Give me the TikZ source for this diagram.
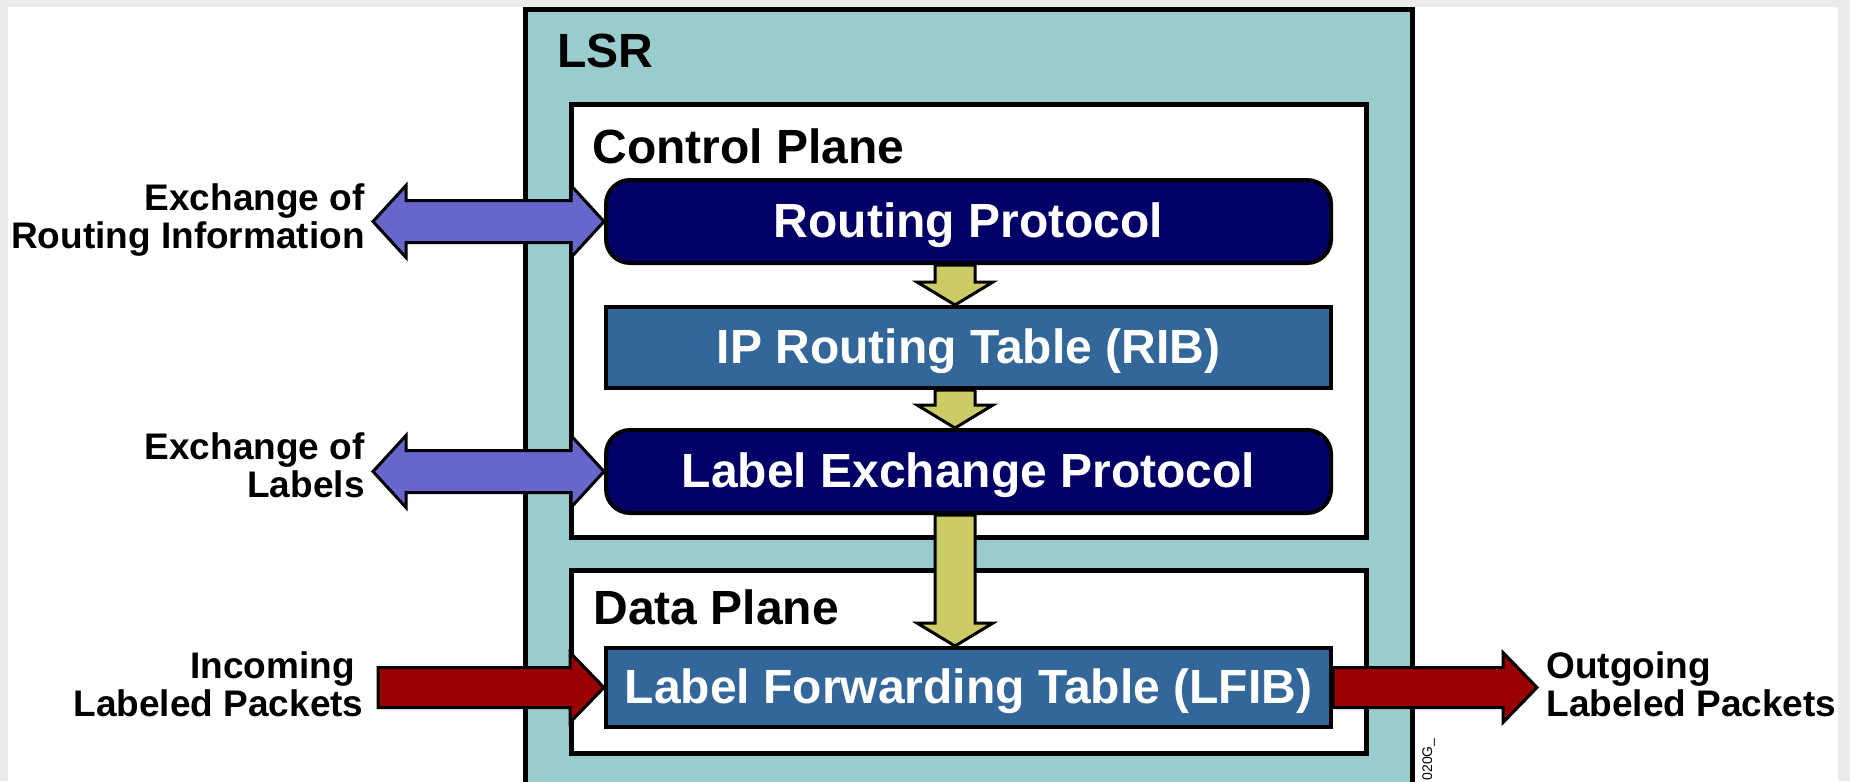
\documentclass[tikz,border=0pt]{standalone}
\usepackage{fontspec}
\setmainfont{Liberation Sans}
\usetikzlibrary{calc}
\definecolor{tealfill}{HTML}{99CCCC}
\definecolor{navyfill}{HTML}{000066}
\definecolor{steelfill}{HTML}{336699}
\definecolor{olivefill}{HTML}{CCCC66}
\definecolor{purplefill}{HTML}{6666CC}
\definecolor{redfill}{HTML}{990000}
\definecolor{framegray}{HTML}{EBEBEB}
\tikzset{
  lsrbox/.style={draw=black, line width=2.5pt, fill=tealfill, inner sep=0pt, minimum width=443.5pt, minimum height=395pt},
  plane/.style={draw=black, line width=2.5pt, fill=white, inner sep=0pt, minimum width=397.5pt},
  boxbase/.style={draw=black, line width=2pt, inner sep=0pt, minimum width=362.5pt, text=white,
    font=\fontsize{24pt}{24pt}\selectfont\bfseries, text height=17.2pt, text depth=1.5pt},
  roundbox/.style={boxbase, fill=navyfill, rounded corners=12pt},
  tablebox/.style={boxbase, fill=steelfill},
  heading/.style={font=\fontsize{24pt}{24pt}\selectfont\bfseries, inner sep=0pt, anchor=base west},
  sidelabel/.style={font=\fontsize{18.5pt}{19pt}\selectfont\bfseries, inner sep=0pt},
  yarrow/.style={draw=black, line width=1.5pt, fill=olivefill, line join=miter},
  parrow/.style={draw=black, line width=1.5pt, fill=purplefill, line join=miter},
  rarrow/.style={draw=black, line width=1.5pt, fill=redfill, line join=miter},
  codelabel/.style={font=\fontsize{7pt}{7pt}\selectfont, inner sep=0pt, rotate=90, anchor=base east}
}
\newcommand{\vblock}[3]{%
  \coordinate (vA) at ($(#1.south)+(#3,0)$);
  \coordinate (vB) at ($(#2.north)+(#3,0)$);
  \draw[yarrow] ($(vA)+(-20,0)$) -- ($(vB)+(-20,-23)$) -- ($(vB)+(-38,-23)$) -- (vB)
     -- ($(vB)+(38,-23)$) -- ($(vB)+(20,-23)$) -- ($(vA)+(20,0)$) -- cycle;}
\newcommand{\hdouble}[2]{%
  \draw[parrow] (#1) -- ($(#1)+(33,-36)$) -- ($(#1)+(33,-21)$) -- ($(#2)+(-33,-21)$)
     -- ($(#2)+(-33,-36)$) -- (#2) -- ($(#2)+(-33,36)$) -- ($(#2)+(-33,21)$)
     -- ($(#1)+(33,21)$) -- ($(#1)+(33,36)$) -- cycle;}
\newcommand{\hsingle}[2]{%
  \draw[rarrow] ($(#1)+(0,-20)$) -- ($(#2)+(-34,-20)$) -- ($(#2)+(-34,-35)$) -- (#2)
     -- ($(#2)+(-34,35)$) -- ($(#2)+(-34,20)$) -- ($(#1)+(0,20)$) -- cycle;}
\begin{document}
\begin{tikzpicture}[x=0.5pt,y=-0.5pt]
\useasboundingbox (0,0) rectangle (1850,781);
\clip (0,0) rectangle (1850,781);
\fill[framegray] (0,0) rectangle (1850,781);
\fill[white] (8,7) rectangle (1838,781);

\node[lsrbox] (lsr) at (968.5,405) {};
\node[heading] (tlsr) at (557,68) {LSR};

\node[plane, minimum height=216pt] (cp) at (968.5,321) {};
\node[plane, minimum height=91.5pt] (dp) at (968.5,661.5) {};
\node[heading] (tcp) at (592,163) {Control Plane};
\node[heading] (tdp) at (593,624) {Data Plane};

\node[roundbox, minimum height=41.5pt] (rp) at (968.5,221.5) {Routing Protocol};
\node[tablebox, minimum height=40.5pt] (rib) at (968.5,347.5) {IP Routing Table (RIB)};
\node[roundbox, minimum height=41.5pt] (lep) at (968.5,471.5) {Label Exchange Protocol};
\node[tablebox, minimum height=39.5pt] (lfib) at (968.5,687.5) {Label Forwarding Table (LFIB)};

\vblock{rp}{rib}{-13.5}
\vblock{rib}{lep}{-13.5}
\vblock{lep}{lfib}{-13.5}

\coordinate (riL) at ($(rp.west)+(-231,0)$);
\coordinate (elL) at ($(lep.west)+(-231,0)$);
\coordinate (inL) at ($(lfib.west)+(-226,0)$);
\coordinate (outR) at ($(lfib.east)+(204,0)$);
\hdouble{riL}{rp.west}
\hdouble{elL}{lep.west}
\hsingle{inL}{lfib.west}
\hsingle{lfib.east}{outR}

\node[sidelabel, align=right, anchor=base east] (tri) at (365,248) {Exchange of\\Routing Information};
\node[sidelabel, align=right, anchor=base east] (tel) at (365,497) {Exchange of\\Labels};
\node[sidelabel, align=right, anchor=base east] (tin) at (364,716) {Incoming\hspace*{4.5pt}\\Labeled Packets};
\node[sidelabel, align=left, anchor=base west] (tout) at (1546,716) {Outgoing\\Labeled Packets};

\node[codelabel] (code) at (1432,738) {020G\_};
\end{tikzpicture}
\end{document}
